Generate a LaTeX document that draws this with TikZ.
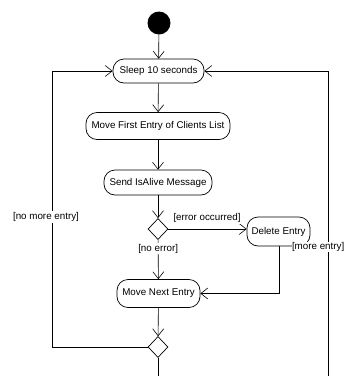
\documentclass[tikz,border=0pt]{standalone}
\usepackage{fontspec}
\setmainfont{Liberation Sans}
\usetikzlibrary{shapes.geometric,arrows.meta}
\begin{document}
\begin{tikzpicture}[x=1pt,y=-1pt,
  action/.style={draw, rounded corners=11pt, line width=0.7pt, inner sep=0pt,
    font=\fontsize{9.8}{11}\selectfont},
  choice/.style={draw, diamond, line width=0.7pt, minimum width=20pt,
    minimum height=21pt, inner sep=0pt},
  flow/.style={line width=0.6pt, -{Straight Barb[length=7pt,width=11pt]}},
  plain/.style={line width=0.6pt},
  guard/.style={fill=white, inner sep=1pt, font=\fontsize{9.8}{11}\selectfont},
]
\useasboundingbox (0,0) rectangle (345,376);

% activity nodes
\node[fill, circle, minimum size=23pt, inner sep=0pt] (start) at (159,23) {};
\node[action, minimum width=91pt, minimum height=24pt] (sleep) at (158.5,71) {Sleep 10 seconds};
\node[action, minimum width=144pt, minimum height=27pt] (first) at (158,126) {Move First Entry of Clients List};
\node[action, minimum width=108pt, minimum height=25pt] (send) at (158,182.5) {Send IsAlive Message};
\node[choice] (d1) at (158,229) {};
\node[action, minimum width=63pt, minimum height=29pt] (del) at (278.5,231.5) {Delete Entry};
\node[action, minimum width=83pt, minimum height=28pt] (next) at (158.5,293.5) {Move Next Entry};
\node[choice] (d2) at (158,347) {};

% routing points of the loops
\coordinate (ltop) at (52,71);
\coordinate (lbot) at (52,347);
\coordinate (rtop) at (328,71);
\coordinate (rbot) at (328,376);
\coordinate (exit) at (158,376);
\coordinate (dcorner) at (279,293.5);

% main flow
\draw[flow] (start) -- (sleep);
\draw[flow] (sleep) -- (first);
\draw[flow] (first) -- (send);
\draw[flow] (send) -- (d1);
\draw[flow] (d1.east) -- (d1.east -| del.west);
\draw[flow] (d1) -- node[guard, pos=0.23] {[no error]} (next);
\draw[flow] (del.south -| dcorner) -- (dcorner) -- (next.east |- dcorner);
\draw[flow] (next) -- (d2);
\draw[flow] (d2.west) -- (lbot) -- (ltop) -- (sleep.west);
\draw[plain] (d2.south) -- (exit);
\draw[flow] (rbot) -- (rtop) -- (sleep.east);

% guards
\node[guard] at (207,218) {[error occurred]};
\node[guard] at (46,217) {[no more entry]};
\node[guard, anchor=east, inner sep=0.5pt] at (345,247) {[more entry]};
\end{tikzpicture}
\end{document}
